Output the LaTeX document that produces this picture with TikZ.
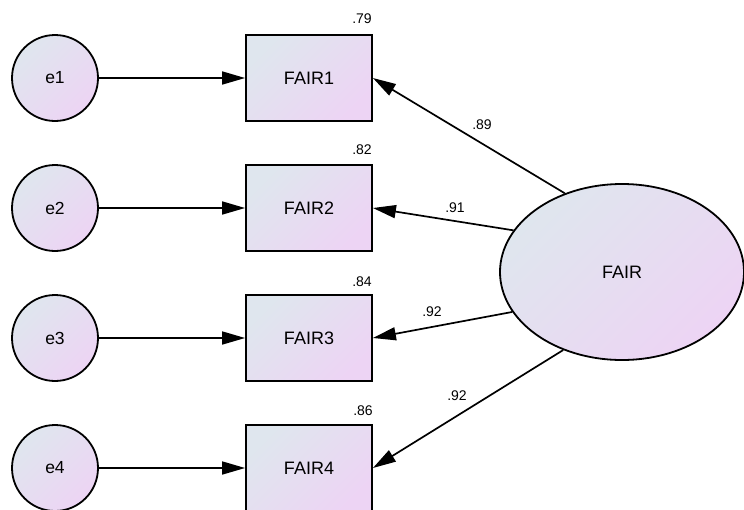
\documentclass[tikz,border=0pt]{standalone}
\usepackage{fontspec}
\setmainfont{Liberation Sans}
\usetikzlibrary{arrows.meta,shapes.geometric}
\definecolor{ca}{RGB}{223,230,238}
\definecolor{cb}{RGB}{237,212,244}
\begin{document}
\begin{tikzpicture}[x=1pt,y=-1pt,
  shadedfill/.style={top color=ca,bottom color=cb,shading angle=45,draw=black,line width=1.8pt},
  err/.style={shadedfill,circle,minimum size=86pt,inner sep=0pt,font=\fontsize{17.5}{20}\selectfont},
  obs/.style={shadedfill,rectangle,minimum width=126pt,minimum height=86pt,inner sep=0pt,font=\fontsize{18}{20}\selectfont},
  lat/.style={shadedfill,ellipse,minimum width=244pt,minimum height=176pt,inner sep=0pt,font=\fontsize{18}{20}\selectfont},
  conn/.style={line width=1.7pt,-{Triangle[length=23pt,width=13pt]}},
  lbl/.style={font=\fontsize{14}{16}\selectfont,inner sep=0pt}]
\clip (0,0) rectangle (744,509);
\node[err] (e1) at (55,78) {e1};
\node[err] (e2) at (55,208) {e2};
\node[err] (e3) at (55,338) {e3};
\node[err] (e4) at (55,468) {e4};
\node[obs] (b1) at (309,78) {FAIR1};
\node[obs] (b2) at (309,208) {FAIR2};
\node[obs] (b3) at (309,338) {FAIR3};
\node[obs] (b4) at (309,468) {FAIR4};
\node[lat] (F) at (622,272) {FAIR};
\node[lbl] (r1) at (362,19) {.79};
\node[lbl] (r2) at (362,150) {.82};
\node[lbl] (r3) at (362,282) {.84};
\node[lbl] (r4) at (363,411) {.86};
\draw[conn] (e1) -- (b1);
\draw[conn] (e2) -- (b2);
\draw[conn] (e3) -- (b3);
\draw[conn] (e4) -- (b4);
\draw[conn] (F.126.5) -- (b1.east);
\draw[conn] (F.159.4) -- (b2.east);
\draw[conn] (F.200.6) -- (b3.east);
\draw[conn] (F.233.8) -- (b4.east);
\node[lbl] (l1) at (482,125) {.89};
\node[lbl] (l2) at (455,208) {.91};
\node[lbl] (l3) at (432,312) {.92};
\node[lbl] (l4) at (457,396) {.92};
\end{tikzpicture}
\end{document}
